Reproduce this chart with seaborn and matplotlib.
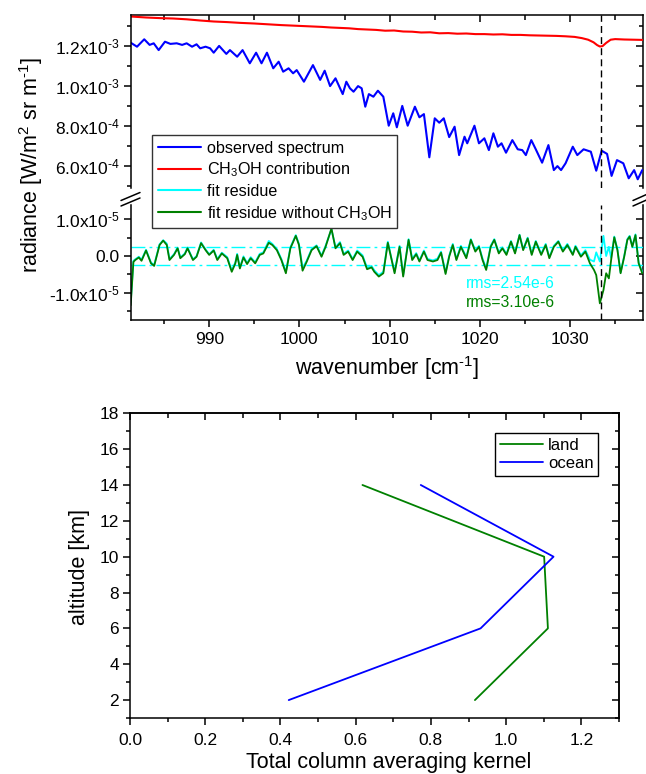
import numpy as np
import pandas as pd
import matplotlib
matplotlib.use("Agg")
import matplotlib.pyplot as plt
from matplotlib.ticker import MultipleLocator, FuncFormatter, NullFormatter
from matplotlib.lines import Line2D
import seaborn as sns

# ---------------- spectrum panel data ----------------
# observed radiance, in units of 1e-4 W/m2 sr m-1
obs_wn = [981.3, 982.0, 982.8, 983.4, 983.85, 984.4, 985.1, 985.7, 986.4, 987.0,
          987.5, 988.1, 988.6, 989.0, 989.6, 990.1, 990.5, 991.1, 991.9, 992.3,
          993.1, 993.7, 994.5, 995.2, 995.8, 996.4, 997.1, 997.7, 998.2, 998.8,
          999.3, 999.7, 1000.5, 1001.5, 1002.3, 1002.8, 1003.4, 1004.0, 1004.8, 1005.2,
          1005.6, 1006.0, 1006.5, 1006.9, 1007.3, 1007.7, 1008.2, 1008.7, 1009.3, 1009.9,
          1010.4, 1010.8, 1011.4, 1012.0, 1012.8, 1013.3, 1013.8, 1014.4, 1015.0, 1015.5,
          1016.0, 1016.6, 1017.2, 1017.7, 1018.3, 1018.6, 1019.4, 1019.9, 1020.5, 1021.0,
          1021.5, 1022.0, 1022.4, 1022.9, 1023.6, 1024.2, 1024.7, 1025.1, 1025.7, 1026.2,
          1026.9, 1027.6, 1028.2, 1028.6, 1029.0, 1029.5, 1030.3, 1030.8, 1031.5, 1032.3,
          1032.9, 1033.5, 1034.1, 1034.6, 1035.2, 1035.9, 1036.5, 1037.1, 1037.5, 1038.0]
obs_rad = [12.15, 11.95, 12.32, 12.04, 12.12, 11.78, 12.20, 12.09, 12.12, 12.04,
           12.12, 11.95, 12.07, 11.87, 11.95, 11.87, 11.65, 11.99, 11.59, 11.78,
           11.45, 11.78, 11.12, 11.65, 11.12, 11.65, 10.87, 11.20, 10.70, 10.87,
           10.62, 10.78, 10.20, 11.03, 10.29, 10.75, 9.98, 10.37, 9.58, 10.20,
           9.87, 9.70, 9.98, 9.87, 8.95, 9.58, 9.45, 9.75, 9.45, 8.00,
           8.62, 7.92, 8.99, 8.00, 8.95, 8.42, 8.58, 6.42, 8.37, 8.15,
           8.37, 7.43, 7.95, 6.53, 7.45, 7.12, 8.00, 7.12, 7.37, 6.78,
           7.62, 6.95, 7.12, 6.65, 7.28, 6.82, 6.78, 6.53, 7.28, 6.82,
           6.15, 7.03, 5.78, 5.98, 5.78, 6.12, 6.95, 6.53, 6.82, 6.70,
           5.75, 6.75, 6.59, 5.49, 6.28, 6.12, 5.37, 5.78, 5.32, 5.78]

# CH3OH contribution, in units of 1e-3
ch3oh_wn = [981.3, 983.0, 984.5, 986.0, 987.5, 989.0, 990.5, 992.0, 993.5, 995.0,
            996.5, 998.0, 999.5, 1001.0, 1002.5, 1003.5, 1004.5, 1005.5, 1006.5, 1007.5,
            1008.5, 1009.5, 1010.5, 1011.5, 1012.5, 1013.5, 1014.5, 1015.5, 1016.5, 1017.5,
            1018.5, 1019.5, 1020.5, 1021.5, 1022.5, 1023.5, 1024.5, 1025.5, 1026.5, 1027.5,
            1028.5, 1029.5, 1030.5, 1031.3, 1032.0, 1032.6, 1033.0, 1033.3, 1033.6, 1034.0,
            1034.5, 1035.0, 1036.0, 1037.0, 1038.0]
ch3oh_rad = [1.346, 1.341, 1.338, 1.336, 1.332, 1.326, 1.321, 1.318, 1.314, 1.311,
             1.307, 1.303, 1.300, 1.297, 1.294, 1.291, 1.289, 1.287, 1.283, 1.281,
             1.279, 1.275, 1.276, 1.271, 1.270, 1.266, 1.267, 1.262, 1.263, 1.260,
             1.261, 1.258, 1.258, 1.256, 1.257, 1.254, 1.254, 1.252, 1.251, 1.250,
             1.249, 1.247, 1.244, 1.238, 1.230, 1.217, 1.203, 1.196, 1.198, 1.214,
             1.230, 1.233, 1.231, 1.230, 1.229]

# fit residues, in units of 1e-6
res_wn = [981.3, 981.6, 981.8, 982.2, 982.5, 983.0, 983.55, 983.9, 984.5, 984.9,
          985.3, 985.6, 986.1, 986.5, 986.8, 987.3, 987.6, 988.2, 988.6, 989.1,
          989.6, 990.0, 990.5, 990.9, 991.4, 992.0, 992.5, 992.9, 993.1, 993.4,
          993.8, 994.2, 994.6, 995.1, 995.6, 996.0, 996.6, 997.0, 997.5, 998.0,
          998.5, 999.0, 999.6, 999.95, 1000.35, 1000.8, 1001.35, 1001.9, 1002.45, 1002.9,
          1003.55, 1004.0, 1004.5, 1004.9, 1005.4, 1005.9, 1006.4, 1007.0, 1007.5, 1008.0,
          1008.3, 1008.8, 1009.3, 1009.8, 1010.2, 1010.55, 1011.1, 1011.5, 1012.1, 1012.5,
          1012.95, 1013.3, 1013.8, 1014.2, 1014.8, 1015.3, 1015.7, 1016.2, 1016.6, 1017.0,
          1017.4, 1017.9, 1018.5, 1019.0, 1019.5, 1019.9, 1020.3, 1020.7, 1021.2, 1021.6,
          1022.1, 1022.5, 1022.95, 1023.45, 1023.9, 1024.4, 1024.8, 1025.3, 1025.75, 1026.2,
          1026.8, 1027.3, 1027.7, 1028.2, 1028.7, 1029.2, 1029.7, 1030.3, 1030.6, 1031.2,
          1031.7, 1032.2, 1032.65, 1032.9, 1033.3, 1033.7, 1034.0, 1034.3, 1034.55, 1034.9,
          1035.25, 1035.6, 1036.0, 1036.35, 1036.6, 1036.9, 1037.25, 1037.6, 1038.0]
res_no_ch3oh = [-13.4, -1.6, -1.1, -0.4, -1.3, 1.5, -2.0, -2.7, 3.0, 4.2,
                3.0, -1.1, 0.3, 2.1, -0.6, 0.5, 2.1, -1.1, -0.2, 3.5,
                1.6, 0.3, 1.5, -1.1, 0.7, -0.6, -4.3, -2.0, 0.3, -3.4,
                -0.4, -2.2, -0.6, -2.0, 0.3, 0.7, 3.6, 3.0, 1.6, -1.1,
                -4.7, 2.1, 5.5, 3.0, -4.0, -1.6, 1.6, 2.7, -0.2, 2.5,
                7.5, 2.1, 3.5, 0.3, 1.2, -1.1, 1.2, -0.2, -3.6, -3.1,
                -4.3, -5.6, -4.7, 3.6, -0.9, -4.7, 2.5, -5.6, 4.4, -1.1,
                0.5, -1.5, 1.2, -1.1, -1.5, -1.1, 0.9, -4.9, -0.2, 3.0,
                -1.1, 2.5, -0.6, 4.4, 1.2, 2.5, -1.1, -3.8, 2.5, 4.4,
                0.7, 2.1, 0.3, 3.9, 0.7, 5.7, 1.6, 4.8, 0.3, 3.9,
                0.3, 3.0, -0.6, 2.5, 3.9, 1.2, 3.0, 0.3, 2.5, -0.2,
                1.2, -2.0, -3.8, -5.2, -12.9, -9.3, -4.7, -6.1, -1.1, 5.1,
                1.6, -4.7, -0.2, 4.4, 5.3, 2.5, 5.7, -2.0, -4.7]
res_fit = [-12.6, -1.3, -0.9, -0.2, -1.0, 1.7, -1.8, -2.4, 3.2, 4.3,
           3.4, -0.8, 0.5, 2.3, -0.4, 0.7, 2.3, -0.9, 0.0, 3.7,
           1.8, 0.5, 1.7, -0.8, 0.9, -0.3, -3.9, -1.7, 0.6, -3.1,
           -0.1, -1.9, -0.3, -1.7, 0.6, 1.0, 4.1, 3.3, 1.9, -0.8,
           -4.3, 2.4, 5.7, 3.3, -3.2, -1.3, 1.9, 2.9, 0.1, 2.8,
           7.3, 2.4, 3.8, 0.6, 1.5, -0.8, 1.5, 0.2, -3.2, -2.7,
           -3.9, -5.2, -4.3, 3.9, -0.6, -4.3, 2.8, -5.2, 4.6, -0.7,
           0.8, -1.2, 1.5, -0.8, -1.2, -0.7, 1.2, -4.5, 0.1, 3.3,
           -0.8, 2.8, -0.3, 4.6, 1.5, 2.8, -0.7, -3.4, 2.8, 4.6,
           1.0, 2.4, 0.6, 4.1, 1.0, 5.8, 1.9, 5.0, 0.6, 4.1,
           0.6, 3.3, -0.3, 2.8, 4.1, 1.5, 3.3, 0.6, 2.8, 0.2,
           1.6, -1.0, -1.5, 1.0, -1.5, 5.5, 0.0, 2.5, -0.5, 5.3,
           1.8, -4.5, 0.0, 4.6, 5.5, 2.7, 5.9, -1.7, -4.4]

rms_fit = 2.54e-6
rms_no_ch3oh = 3.10e-6
ch3oh_line_wn = 1033.4

# ---------------- averaging kernel panel data ----------------
altitude_km = [2, 6, 10, 14]
kernel_land = [0.917, 1.111, 1.101, 0.618]
kernel_ocean = [0.422, 0.932, 1.126, 0.773]

# ---------------- style ----------------
sns.set_style("ticks")
plt.rcParams.update({
    "font.family": ["Liberation Sans", "DejaVu Sans"],
    "mathtext.fontset": "custom",
    "mathtext.rm": "Liberation Sans",
    "mathtext.it": "Liberation Sans:italic",
    "mathtext.bf": "Liberation Sans:bold",
    "mathtext.default": "regular",
    "axes.edgecolor": "black",
    "axes.linewidth": 1.1,
    "text.color": "black",
    "axes.labelcolor": "black",
    "xtick.color": "black",
    "ytick.color": "black",
    "xtick.labelsize": 12.5,
    "ytick.labelsize": 12.5,
})

HY = "\u2010"  # short hyphen used in exponents

W, H = 646, 774
fig = plt.figure(figsize=(W / 100, H / 100), dpi=100)


def fx(px):
    return px / W


def fy(py):
    return 1 - py / H


ax_up = fig.add_axes([fx(130.7), fy(188), fx(642.7) - fx(130.7), fy(15) - fy(188)])
ax_lo = fig.add_axes([fx(130.7), fy(320), fx(642.7) - fx(130.7), fy(205) - fy(320)],
                     sharex=ax_up)
ax_ak = fig.add_axes([fx(130), fy(718), fx(619) - fx(130), fy(413.3) - fy(718)])


def sci_fmt(v, pos):
    if abs(v) < 1e-12:
        return "0.0"
    e = int(np.floor(np.log10(abs(v)) + 1e-9))
    m = v / 10 ** e
    sign = HY if m < 0 else ""
    exp = f"{HY}{-e}" if e < 0 else f"{e}"
    return f"{sign}{abs(m):.1f}x10$^{{{exp}}}$"


def style_ticks(ax, xmaj, xmin, ymaj, ymin, show_top=True, show_bottom=True):
    ax.xaxis.set_major_locator(MultipleLocator(xmaj))
    ax.xaxis.set_minor_locator(MultipleLocator(xmin))
    ax.yaxis.set_major_locator(MultipleLocator(ymaj))
    ax.yaxis.set_minor_locator(MultipleLocator(ymin))
    ax.tick_params(which="both", direction="out", width=1.1, top=False, right=False,
                   bottom=show_bottom, labelbottom=show_bottom)
    ax.tick_params(which="major", length=5)
    ax.tick_params(which="minor", length=3)
    ax.tick_params(axis="x", pad=4)
    ax.tick_params(axis="y", pad=3)
    # mirrored axes: ticks pointing inward on top and right
    sy = ax.secondary_yaxis("right")
    sy.yaxis.set_major_locator(MultipleLocator(ymaj))
    sy.yaxis.set_minor_locator(MultipleLocator(ymin))
    sy.yaxis.set_major_formatter(NullFormatter())
    sy.tick_params(which="both", direction="in", width=1.1)
    sy.tick_params(which="major", length=5)
    sy.tick_params(which="minor", length=3)
    sy.spines["right"].set_linewidth(1.1)
    if show_top:
        sx = ax.secondary_xaxis("top")
        sx.xaxis.set_major_locator(MultipleLocator(xmaj))
        sx.xaxis.set_minor_locator(MultipleLocator(xmin))
        sx.xaxis.set_major_formatter(NullFormatter())
        sx.tick_params(which="both", direction="in", width=1.1)
        sx.tick_params(which="major", length=5)
        sx.tick_params(which="minor", length=3.5)
        sx.spines["top"].set_linewidth(1.1)


# ---------------- spectrum: upper part ----------------
obs_df = pd.DataFrame({"wn": obs_wn, "rad": np.array(obs_rad) * 1e-4})
ch3oh_df = pd.DataFrame({"wn": ch3oh_wn, "rad": np.array(ch3oh_rad) * 1e-3})
res_df = pd.DataFrame({"wn": res_wn,
                       "fit": np.array(res_fit) * 1e-6,
                       "nofit": np.array(res_no_ch3oh) * 1e-6})

sns.lineplot(data=ch3oh_df, x="wn", y="rad", ax=ax_up, color="#ff0000", lw=1.5,
             sort=False, estimator=None, legend=False)
sns.lineplot(data=obs_df, x="wn", y="rad", ax=ax_up, color="#0000ff", lw=1.5,
             sort=False, estimator=None, legend=False)
ax_up.axvline(ch3oh_line_wn, color="black", lw=1.0, ls=(0, (5, 3)))
ax_up.set_xlim(981.3, 1038.05)
ax_up.set_ylim(4.885e-4, 1.3535e-3)
ax_up.spines["bottom"].set_visible(False)
ax_up.spines["top"].set_visible(False)
ax_up.spines["right"].set_visible(False)
style_ticks(ax_up, 10, 5, 2e-4, 1e-4, show_top=True, show_bottom=False)
ax_up.yaxis.set_major_formatter(FuncFormatter(sci_fmt))
ax_up.set_xlabel("")
ax_up.set_ylabel("")

# ---------------- spectrum: residue part ----------------
ax_lo.axhline(rms_fit, color="#00ffff", lw=1.0, ls=(0, (10, 3, 2, 3)))
ax_lo.axhline(-rms_fit, color="#00ffff", lw=1.0, ls=(0, (10, 3, 2, 3)))
sns.lineplot(data=res_df, x="wn", y="fit", ax=ax_lo, color="#00ffff", lw=1.3,
             sort=False, estimator=None, legend=False)
sns.lineplot(data=res_df, x="wn", y="nofit", ax=ax_lo, color="#008000", lw=1.3,
             sort=False, estimator=None, legend=False)
ax_lo.axvline(ch3oh_line_wn, color="black", lw=1.0, ls=(0, (5, 3)))
ax_lo.set_ylim(-1.744e-5, 1.39e-5)
ax_lo.spines["top"].set_visible(False)
ax_lo.spines["right"].set_visible(False)
style_ticks(ax_lo, 10, 5, 1e-5, 5e-6, show_top=False, show_bottom=True)
ax_lo.yaxis.set_major_formatter(FuncFormatter(sci_fmt))
ax_lo.xaxis.set_major_formatter(FuncFormatter(lambda v, p: f"{v:.0f}"))
ax_lo.set_xlabel("")
ax_lo.set_ylabel("")
ax_lo.text(1018.5, -7.4e-6, f"rms={rms_fit:.2e}".replace("e-06", "e-6"),
           color="#00ffff", fontsize=11.3, va="center", ha="left")
ax_lo.text(1018.5, -1.28e-5, f"rms={rms_no_ch3oh:.2e}".replace("e-06", "e-6"),
           color="#008000", fontsize=11.3, va="center", ha="left")

# axis break marks
for xa, xb in [(121, 140), (633, 651)]:
    for dy in (0, 5.5):
        fig.add_artist(Line2D([fx(xa), fx(xb)], [fy(200.5 + dy), fy(192.5 + dy)],
                              transform=fig.transFigure, color="black", lw=1.1))

fig.text(fx(31), fy(165), f"radiance [W/m$^2$ sr m$^{{{HY}1}}$]", rotation=90,
         ha="center", va="center", fontsize=15.5)
fig.text(fx(387), fy(375), f"wavenumber [cm$^{{{HY}1}}$]", ha="center",
         va="baseline", fontsize=15.5)

handles = [Line2D([], [], color="#0000ff", lw=1.5),
           Line2D([], [], color="#ff0000", lw=1.5),
           Line2D([], [], color="#00ffff", lw=1.5),
           Line2D([], [], color="#008000", lw=1.5)]
labels = ["observed spectrum", "CH$_3$OH contribution", "fit residue",
          "fit residue without CH$_3$OH"]
leg = fig.legend(handles, labels, loc="upper left", bbox_to_anchor=(fx(152), fy(135)),
                 bbox_transform=fig.transFigure, fontsize=11.6, frameon=True,
                 fancybox=False, framealpha=1, edgecolor="#333333",
                 handlelength=2.7, handletextpad=0.35, labelspacing=0.3,
                 borderpad=0.35, borderaxespad=0)
leg.get_frame().set_linewidth(1.0)

# ---------------- averaging kernel panel ----------------
ak_df = pd.DataFrame({"alt": altitude_km, "land": kernel_land, "ocean": kernel_ocean})
sns.lineplot(data=ak_df, x="land", y="alt", ax=ax_ak, color="#008000", lw=1.3,
             sort=False, estimator=None, legend=False)
sns.lineplot(data=ak_df, x="ocean", y="alt", ax=ax_ak, color="#0000ff", lw=1.3,
             sort=False, estimator=None, legend=False)
ax_ak.set_xlim(0, 1.3)
ax_ak.set_ylim(1, 18)
style_ticks(ax_ak, 0.2, 0.1, 2, 1, show_top=True, show_bottom=True)
ax_ak.xaxis.set_major_formatter(FuncFormatter(lambda v, p: f"{v:.1f}"))
ax_ak.yaxis.set_major_formatter(FuncFormatter(lambda v, p: f"{v:.0f}"))
ax_ak.tick_params(axis="x", pad=6)
ax_ak.set_xlabel("")
ax_ak.set_ylabel("")
ak_leg = ax_ak.legend([Line2D([], [], color="#008000", lw=1.3),
                       Line2D([], [], color="#0000ff", lw=1.3)],
                      ["land", "ocean"], loc="upper right",
                      bbox_to_anchor=(0.958, 0.936), fontsize=12, frameon=True,
                      fancybox=False, framealpha=1, edgecolor="black",
                      handlelength=2.6, handletextpad=0.3, labelspacing=0.2,
                      borderpad=0.3, borderaxespad=0)
ak_leg.get_frame().set_linewidth(1.0)

fig.text(fx(79), fy(567), "altitude [km]", rotation=90, ha="center", va="center",
         fontsize=15.5)
fig.text(fx(388.5), fy(768), "Total column averaging kernel", ha="center",
         va="baseline", fontsize=15.5)

fig.savefig("out.png", dpi=100)
